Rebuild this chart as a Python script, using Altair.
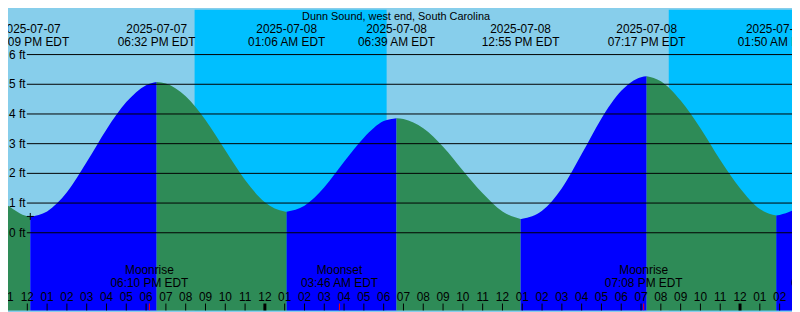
import altair as alt
import pandas as pd
from datetime import datetime

BASE = datetime(2025, 7, 7, 0, 0)


def hrs(s):
    d = datetime.strptime(s, "%Y-%m-%d %H:%M")
    return (d - BASE).total_seconds() / 3600.0


title_text = "Dunn Sound, west end, South Carolina"

# high / low tides
extreme_times = ["2025-07-07 12:09", "2025-07-07 18:32", "2025-07-08 01:06",
                 "2025-07-08 06:39", "2025-07-08 12:55", "2025-07-08 19:17",
                 "2025-07-09 01:50"]
extreme_ft = [0.55, 5.08, 0.71, 3.86, 0.46, 5.27, 0.58]
extreme_dates = ["2025-07-07", "2025-07-07", "2025-07-08", "2025-07-08",
                 "2025-07-08", "2025-07-08", "2025-07-09"]
extreme_clock = ["12:09 PM EDT", "06:32 PM EDT", "01:06 AM EDT", "06:39 AM EDT",
                 "12:55 PM EDT", "07:17 PM EDT", "01:50 AM EDT"]

# hourly tide heights (ft), 2025-07-07 10:00 .. 2025-07-09 03:00
hourly_start = "2025-07-07 10:00"
hourly_ft = [1.40, 0.92, 0.56, 0.72, 1.36, 2.38, 3.48, 4.40, 4.97,
             5.03, 4.60, 3.80, 2.78, 1.78, 1.03, 0.72,
             0.91, 1.53, 2.39, 3.20, 3.76,
             3.83, 3.52, 2.90, 2.10, 1.33, 0.72,
             0.47, 0.74, 1.50, 2.65, 3.85, 4.78, 5.24,
             5.10, 4.45, 3.52, 2.45, 1.50, 0.80,
             0.60, 0.85]

# night (sunset -> sunrise)
night_start = ["2025-07-07 20:27", "2025-07-08 20:24"]
night_end = ["2025-07-08 06:09", "2025-07-09 06:10"]

# moon events
moon_event = ["Moonrise", "Moonset", "Moonrise", "Moonset"]
moon_time = ["2025-07-07 18:10", "2025-07-08 03:46", "2025-07-08 19:08", "2025-07-09 04:32"]
moon_clock = ["06:10 PM EDT", "03:46 AM EDT", "07:08 PM EDT", "04:32 AM EDT"]

height_ticks = [0, 1, 2, 3, 4, 5, 6]
height_labels = ["0 ft", "1 ft", "2 ft", "3 ft", "4 ft", "5 ft", "6 ft"]

first_hour_tick = "2025-07-07 11:00"
n_hour_ticks = 40

# ---------------------------------------------------------------- tables
h0 = hrs(hourly_start)
hourly = [(h0 + i, v) for i, v in enumerate(hourly_ft)]
ext_h = [hrs(t) for t in extreme_times]
keys = [hourly[0][0]] + ext_h + [hourly[-1][0]]
key_ft = [hourly[0][1]] + extreme_ft + [hourly[-1][1]]
rows = []
for i in range(len(keys) - 1):
    a, b = keys[i], keys[i + 1]
    direction = "rising" if key_ft[i + 1] > key_ft[i] else "falling"
    pts = [(a, key_ft[i])] + [(h, v) for h, v in hourly if a < h < b] + [(b, key_ft[i + 1])]
    for h, v in pts:
        rows.append({"H": h, "ft": v, "seg": i, "dir": direction})
tide = pd.DataFrame(rows)

extremes = pd.DataFrame({"H": ext_h, "ft": extreme_ft,
                         "lab": [d + "\n" + c for d, c in zip(extreme_dates, extreme_clock)]})
night = pd.DataFrame({"s": [hrs(t) for t in night_start], "e": [hrs(t) for t in night_end]})
moon = pd.DataFrame({"H": [hrs(t) for t in moon_time],
                     "lab": [e + "\n" + c for e, c in zip(moon_event, moon_clock)]})
heights = pd.DataFrame({"ft": height_ticks, "lab": height_labels})
ht0 = hrs(first_hour_tick)
hour_h = [ht0 + i for i in range(n_hour_ticks)]
hours = pd.DataFrame({"H": hour_h,
                      "lab": ["%02d" % ((int(h) % 12) or 12) for h in hour_h],
                      "midnight": [int(h) % 24 == 0 for h in hour_h]})
title_df = pd.DataFrame({"t": [title_text]})

# ---------------------------------------------------------------- chart
W, H = 792, 304
FONT = "Liberation Sans"
xs = alt.Scale(domain=[11.025, 50.625], nice=False, zero=False)
ys = alt.Scale(domain=[-2.6167, 7.5167], nice=False, zero=False)

night_layer = alt.Chart(night).mark_rect(color="#00BFFF", clip=True).encode(
    x=alt.X("s:Q", scale=xs, axis=None), x2="e:Q",
    y=alt.value(0), y2=alt.value(H))

tide_layer = alt.Chart(tide).mark_area(interpolate="monotone", clip=True, opacity=1).encode(
    x=alt.X("H:Q", scale=xs, axis=None),
    y=alt.Y("ft:Q", scale=ys, axis=None, stack=None),
    y2=alt.datum(-3),
    color=alt.Color("dir:N", scale=alt.Scale(domain=["rising", "falling"],
                                             range=["#0000FF", "#2E8B57"]), legend=None),
    detail="seg:N")

grid_layer = alt.Chart(heights).mark_rule(color="black", strokeWidth=1).encode(
    y=alt.Y("ft:Q", scale=ys, axis=None), x=alt.value(19), x2=alt.value(W))

ylab_layer = alt.Chart(heights).mark_text(align="left", baseline="middle", font=FONT,
                                          fontSize=12, color="black").encode(
    y=alt.Y("ft:Q", scale=ys, axis=None), x=alt.value(1), text="lab:N")

title_layer = alt.Chart(title_df).mark_text(align="center", baseline="alphabetic", font=FONT,
                                            fontSize=11, color="black").encode(
    x=alt.value(392), y=alt.value(10.2), text="t:N")

extreme_lab_layer = alt.Chart(extremes).mark_text(
    align="center", baseline="alphabetic", font=FONT, fontSize=12, color="black",
    lineBreak="\n", lineHeight=13).encode(
    x=alt.X("H:Q", scale=xs, axis=None), y=alt.value(23.5), text="lab:N")

cross_layer = alt.Chart(extremes.head(1)).mark_point(
    shape="M-1,0L1,0M0,-1L0,1", filled=False, stroke="black", strokeWidth=1,
    size=49, opacity=1).encode(
    x=alt.X("H:Q", scale=xs, axis=None), y=alt.Y("ft:Q", scale=ys, axis=None))

moon_lab_layer = alt.Chart(moon).mark_text(
    align="center", baseline="alphabetic", font=FONT, fontSize=12, color="black",
    lineBreak="\n", lineHeight=13.2).encode(
    x=alt.X("H:Q", scale=xs, axis=None), y=alt.value(266.8), text="lab:N")

hour_lab_layer = alt.Chart(hours).mark_text(align="center", baseline="alphabetic", font=FONT,
                                            fontSize=12, color="black").encode(
    x=alt.X("H:Q", scale=xs, axis=None), y=alt.value(294), text="lab:N")

tick_layer = alt.Chart(hours).mark_rule(color="black").encode(
    x=alt.X("H:Q", scale=xs, axis=None), y=alt.value(297), y2=alt.value(H),
    strokeWidth=alt.condition("datum.midnight", alt.value(3), alt.value(1)))

moon_tick_layer = alt.Chart(moon).mark_rule(color="red", strokeWidth=1, clip=True).encode(
    x=alt.X("H:Q", scale=xs, axis=None), y=alt.value(297), y2=alt.value(H))

chart = alt.layer(
    night_layer, tide_layer, grid_layer, ylab_layer, title_layer, extreme_lab_layer,
    cross_layer, moon_lab_layer, hour_lab_layer, tick_layer, moon_tick_layer
).properties(
    width=W, height=H, background="#87CEEB", padding=0,
    autosize=alt.AutoSizeParams(type="none")
).configure_view(stroke=None)

chart.save("out.html", embed_options={"renderer": "svg", "actions": False})
